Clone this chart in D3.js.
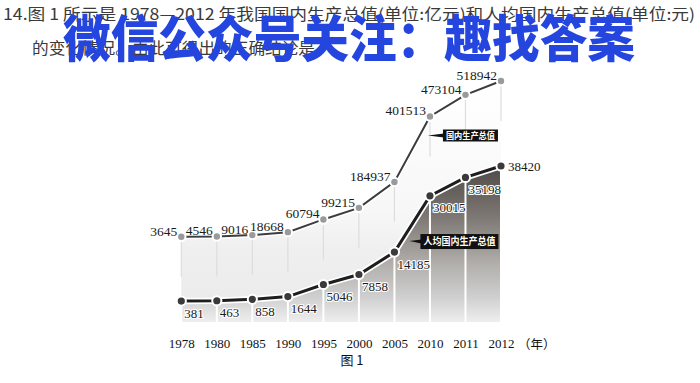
<!DOCTYPE html>
<html><head><meta charset="utf-8">
<script src="https://cdn.jsdelivr.net/npm/d3@7"></script>
<style>html,body{margin:0;padding:0;background:#fff;}svg{display:block;}</style>
</head><body>
<svg id="c" width="700" height="383"></svg>
<script>
const years = ["1978","1980","1985","1990","1995","2000","2005","2010","2011","2012"];
const gdp = [3645,4546,9016,18668,60794,99215,184937,401513,473104,518942];
const perCapita = [381,463,858,1644,5046,7858,14185,30015,35198,38420];
const questionLines = ["14.图 1 所示是 1978—2012 年我国国内生产总值(单位:亿元)和人均国内生产总值(单位:元)", "的变化情况。由此可得出的正确结论是"];
const watermark = "微信公众号关注：趣找答案";
const gdpTag = "国内生产总值";
const pcTag = "人均国内生产总值";
const yearUnit = "（年）";
const figCaption = "图 1";

const svg = d3.select("#c");
const serif = "'Liberation Serif','DejaVu Serif',serif";
const cjk = "'Noto Sans CJK SC','Noto Sans',sans-serif";

const x = d3.scalePoint().domain(years).range([181.3, 501]);
const yG = d3.scaleLinear().domain([0, 520000]).range([237.8, 80.7]);
const yP = d3.scaleLinear().domain([0, 40000]).range([302.4, 160.4]);
const bottom = 322;

const gd = years.map((y,i)=>({year:y, v:gdp[i]}));
const pd = years.map((y,i)=>({year:y, v:perCapita[i]}));

const defs = svg.append("defs");
const g1 = defs.append("linearGradient").attr("id","gPC").attr("gradientUnits","userSpaceOnUse")
  .attr("x1",0).attr("x2",0).attr("y1",yP(40000)).attr("y2",bottom);
[[0,"#4a4542"],[0.35,"#7d7873"],[0.65,"#b3b0ad"],[0.85,"#d0d0d0"],[1,"#eeeeee"]].forEach(s=>g1.append("stop").attr("offset",s[0]).attr("stop-color",s[1]));
const g2 = defs.append("linearGradient").attr("id","gG").attr("gradientUnits","userSpaceOnUse")
  .attr("x1",0).attr("x2",0).attr("y1",yG(520000)).attr("y2",bottom);
[[0,"#ffffff"],[0.55,"#f7f7f7"],[0.7,"#efefef"],[1,"#eaeaea"]].forEach(s=>g2.append("stop").attr("offset",s[0]).attr("stop-color",s[1]));

// question text
svg.append("text").attr("x",3).attr("y",20).attr("font-family",cjk).attr("font-size",15.5)
  .attr("fill","#3a3a3a").attr("textLength",692).attr("lengthAdjust","spacingAndGlyphs").text(questionLines[0]);
svg.append("text").attr("x",32).attr("y",54).attr("font-family",cjk).attr("font-size",16)
  .attr("fill","#3a3a3a").attr("textLength",283).attr("lengthAdjust","spacingAndGlyphs").text(questionLines[1]);

// GDP area
svg.append("path").datum(gd).attr("fill","url(#gG)")
  .attr("d", d3.area().x(d=>x(d.year)).y0(bottom).y1(d=>yG(d.v)));
svg.append("g").selectAll("line").data(gd).join("line")
  .attr("x1",d=>x(d.year)).attr("x2",d=>x(d.year)).attr("y1",d=>yG(d.v)+5).attr("y2",d=>yG(d.v)+40)
  .attr("stroke","#dddddd").attr("stroke-width",1.2);

// per-capita area
svg.append("path").datum(pd).attr("fill","url(#gPC)")
  .attr("d", d3.area().x(d=>x(d.year)).y0(bottom).y1(d=>yP(d.v)));
svg.append("g").selectAll("line").data(pd).join("line")
  .attr("x1",d=>x(d.year)).attr("x2",d=>x(d.year)).attr("y1",d=>yP(d.v)).attr("y2",bottom)
  .attr("stroke","#ffffff").attr("stroke-width",2);

// lines
const lineG = d3.line().x(d=>x(d.year)).y(d=>yG(d.v));
const lineP = d3.line().x(d=>x(d.year)).y(d=>yP(d.v));
svg.append("path").datum(gd).attr("d",lineG).attr("fill","none").attr("stroke","#fff").attr("stroke-width",5);
svg.append("path").datum(gd).attr("d",lineG).attr("fill","none").attr("stroke","#3c3c3c").attr("stroke-width",2);
svg.append("path").datum(pd).attr("d",lineP).attr("fill","none").attr("stroke","#fff").attr("stroke-width",6.5);
svg.append("path").datum(pd).attr("d",lineP).attr("fill","none").attr("stroke","#1e1e1e").attr("stroke-width",3);

// dots
svg.append("g").selectAll("circle").data(gd).join("circle")
  .attr("cx",d=>x(d.year)).attr("cy",d=>yG(d.v)).attr("r",4.2)
  .attr("fill","#9a9a9a").attr("stroke","#fff").attr("stroke-width",2);
svg.append("g").selectAll("circle").data(pd).join("circle")
  .attr("cx",d=>x(d.year)).attr("cy",d=>yP(d.v)).attr("r",4.6)
  .attr("fill","#3a3a3a").attr("stroke","#fff").attr("stroke-width",2);

// GDP labels
svg.append("g").selectAll("text").data(gd).join("text")
  .attr("x",d=>x(d.year)-4).attr("y",d=>yG(d.v)-1)
  .attr("text-anchor","end").attr("font-family",serif).attr("font-size",13.5).attr("fill","#1a1a1a")
  .text(d=>d.v);

// per-capita labels
const last = pd.length-1;
svg.append("g").selectAll("text").data(pd).join("text")
  .attr("x",(d,i)=> i===last ? x(d.year)+7 : x(d.year)+3)
  .attr("y",(d,i)=> i===last ? yP(d.v)+4.5 : yP(d.v)+16.5)
  .attr("font-family",serif).attr("font-size",13).attr("fill","#1a1a1a")
  .attr("stroke",(d,i)=> i===last ? "none" : "#ffffff").attr("stroke-width",2.2)
  .attr("paint-order","stroke").attr("stroke-linejoin","round")
  .text(d=>d.v);

// callouts
function callout(tipX, tipY, bx, by, bw, bh, label, fs){
  const g = svg.append("g");
  g.append("path").attr("d",`M${tipX},${tipY}L${bx+1},${by+bh/2-2}L${bx+1},${by+bh/2+2}Z`).attr("fill","#111");
  g.append("rect").attr("x",bx).attr("y",by).attr("width",bw).attr("height",bh).attr("fill","#111");
  g.append("text").attr("x",bx+bw/2).attr("y",by+bh/2+fs*0.36).attr("text-anchor","middle")
    .attr("font-family",cjk).attr("font-weight",700).attr("font-size",fs).attr("fill","#fff")
    .attr("textLength",bw-6).attr("lengthAdjust","spacingAndGlyphs").text(label);
}
const gx = x("2010"), gy = yG(gdp[7]);
callout(gx-2, gy+19, gx+13, gy+13, 55, 12, gdpTag, 9);
const px = x("2005"), py = yP(perCapita[6]);
callout(px+15, py-11, px+26, py-18, 78, 15, pcTag, 10);

// x axis
const ax = svg.append("g").attr("transform",`translate(0,${bottom+10})`)
  .call(d3.axisBottom(x).tickSize(0).tickPadding(7));
ax.select(".domain").remove();
ax.selectAll("text").attr("font-family",serif).attr("font-size",13).attr("fill","#111");
svg.append("text").attr("x",x("2012")+17).attr("y",bottom+27).attr("font-family",cjk).attr("font-size",12.5)
  .attr("fill","#111").text(yearUnit);
svg.append("text").attr("x",352).attr("y",365).attr("text-anchor","middle").attr("font-family",cjk)
  .attr("font-size",13).attr("fill","#111").text(figCaption);

// watermark
svg.append("text").attr("x",63).attr("y",57).attr("font-family",cjk).attr("font-weight",900)
  .attr("font-size",50).attr("fill","#2446de").attr("textLength",572).attr("lengthAdjust","spacingAndGlyphs")
  .text(watermark);
</script>
</body></html>
